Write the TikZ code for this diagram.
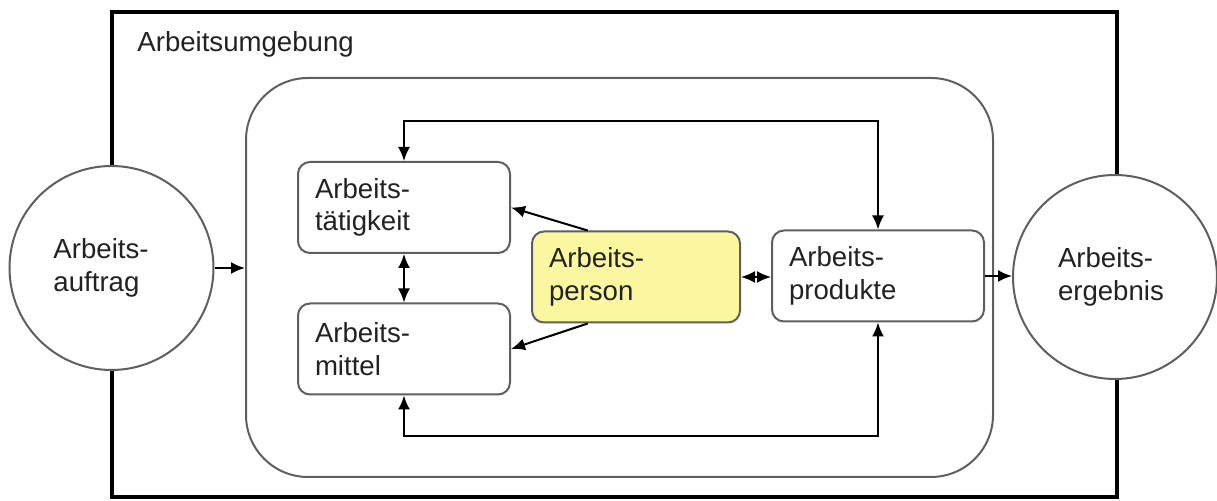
\documentclass[tikz,border=0pt]{standalone}
\usepackage{fontspec}
\setmainfont{Liberation Sans}
\usetikzlibrary{arrows.meta,calc}
\definecolor{boxgray}{HTML}{5F5F5F}
\definecolor{pyellow}{HTML}{FAF7A0}
\definecolor{txtcol}{HTML}{222222}
\begin{document}
\begin{tikzpicture}[x=0.5pt,y=-0.5pt,
  txt/.style={font=\fontsize{13.8}{16.25}\selectfont, text=txtcol},
  stepbox/.style={txt, draw=boxgray, line width=1pt, rounded corners=6pt, fill=white, text width=89pt, inner xsep=8.5pt, inner ysep=0pt, align=left, minimum height=45.5pt},
  bubble/.style={txt, circle, draw=boxgray, line width=1pt, fill=white, minimum size=102pt, inner sep=0pt, text width=58pt, align=left},
  arr/.style={line width=1pt, -{Latex[length=7pt,width=6pt]}},
  darr/.style={line width=1pt, {Latex[length=7pt,width=6pt]}-{Latex[length=7pt,width=6pt]}}]
\useasboundingbox (0,0) rectangle (1217,501);
\node[draw=black, line width=2pt, minimum width=502.5pt, minimum height=242.5pt, inner sep=0pt] (env) at (614.5,254.5) {};
\node[txt, anchor=base west, inner sep=0pt] (envlabel) at (137,52) {Arbeitsumgebung};
\node[draw=boxgray, line width=1pt, rounded corners=31pt, minimum width=373.5pt, minimum height=199.5pt, inner sep=0pt] (inner) at (619.5,277.5) {};
\node[stepbox] (taet) at (404,207.5) {Arbeits-\\tätigkeit};
\node[stepbox] (mittel) at (404,349) {Arbeits-\\mittel};
\node[stepbox, fill=pyellow, text width=87pt] (person) at (636,277) {Arbeits-\\person};
\node[stepbox] (prod) at (878,276) {Arbeits-\\produkte};
\node[bubble] (auftrag) at (111.5,268) {Arbeits-\\auftrag};
\node[bubble, text width=57pt] (ergebnis) at (1115,277) {Arbeits-\\ergebnis};
\coordinate (top) at (640,121);
\coordinate (bot) at (640,436);
\draw[arr] (auftrag.east) -- (auftrag.east -| inner.west);
\draw[arr] (prod.east) -- (prod.east -| ergebnis.west);
\draw[darr] (person.east) -- (person.east -| prod.west);
\draw[darr] (taet.south) -- (mittel.north);
\draw[darr] (taet.north) |- (top) -| (prod.north);
\draw[darr] (mittel.south) |- (bot) -| (prod.south);
\draw[arr] ($(person.north west)!0.27!(person.north east)$) -- (taet.east);
\draw[arr] ($(person.south west)!0.27!(person.south east)$) -- (mittel.east);
\end{tikzpicture}
\end{document}
